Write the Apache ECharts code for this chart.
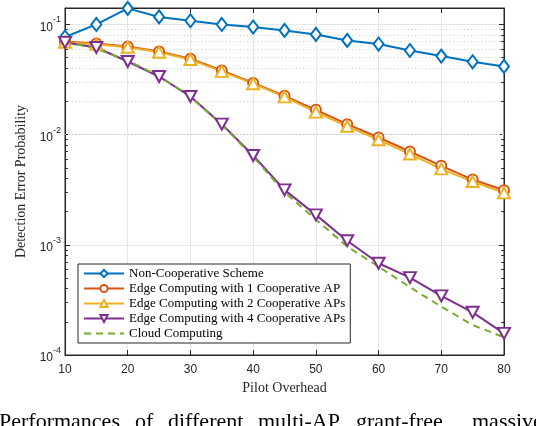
<!DOCTYPE html>
<html>
<head>
<meta charset="utf-8">
<script src="https://cdn.jsdelivr.net/npm/echarts@6/dist/echarts.min.js"></script>
<style>
  html, body { margin: 0; padding: 0; background: #fff; }
  #chart { width: 536px; height: 426px; }
</style>
</head>
<body>
<div id="chart"></div>
<script>
// pilot overhead
var pilotOverhead = [10, 15, 20, 25, 30, 35, 40, 45, 50, 55, 60, 65, 70, 75, 80];

// detection error probability
var nonCooperative = [0.077, 0.100, 0.140, 0.117, 0.108, 0.100, 0.0947, 0.0883, 0.0812, 0.0716, 0.0664, 0.058, 0.0516, 0.0458, 0.0416];
var edge1AP = [0.070, 0.067, 0.063, 0.0569, 0.0488, 0.0382, 0.0294, 0.0225, 0.0168, 0.01245, 0.00942, 0.00703, 0.00521, 0.00391, 0.00313];
var edge2APs = [0.069, 0.066, 0.062, 0.056, 0.048, 0.0375, 0.029, 0.022, 0.016, 0.0119, 0.00897, 0.00666, 0.00489, 0.00375, 0.00296];
var edge4APs = [0.0687, 0.0618, 0.0461, 0.0337, 0.0222, 0.01245, 0.00646, 0.00315, 0.00187, 0.00109, 0.00068, 0.000504, 0.000344, 0.000244, 0.000157];
var cloudComputing = [0.070, 0.060, 0.047, 0.034, 0.022, 0.0123, 0.0063, 0.0030, 0.0017, 0.000965, 0.000634, 0.000412, 0.000275, 0.000187, 0.000145];

var seriesNames = [
    'Non-Cooperative Scheme',
    'Edge Computing with 1 Cooperative AP',
    'Edge Computing with 2 Cooperative APs',
    'Edge Computing with 4 Cooperative APs',
    'Cloud Computing'
];

var captionWords = ['Performances', 'of', 'different', 'multi-AP', 'grant-free', 'massive'];
var captionX = [-1, 135, 168, 258, 356, 472];

var yMin = 1e-4, yMax = 0.141;

function toPoints(values) {
    const points = [];
    values.forEach(function(v, i) {
        points.push([pilotOverhead[i], v]);
    });
    return points;
}

// dotted minor grid at 2..9 x 10^k
function minorValues() {
    const vals = [];
    for (var k = -4; k < 0; k++) {
        for (var m = 2; m <= 9; m++) {
            var v = m * Math.pow(10, k);
            if (v < yMax) vals.push(v);
        }
    }
    return vals;
}

function minorGrid() {
    const lines = [];
    minorValues().forEach(function(v) {
        lines.push({ yAxis: v });
    });
    return lines;
}

function minorTicks() {
    const lines = [];
    minorValues().forEach(function(v) {
        lines.push([{ coord: [10, v] }, { coord: [10.45, v] }]);
        lines.push([{ coord: [79.55, v] }, { coord: [80, v] }]);
    });
    return lines;
}

var axisColor = '#262626';
var sansFont = 'Liberation Sans';
var serifFont = 'Liberation Serif';

function powerLabel(value) {
    var e = Math.log10(value);
    var r = Math.round(e);
    if (Math.abs(e - r) > 1e-6) return '';
    return '{b|10}{s|' + r + '}';
}

var chart = echarts.init(document.getElementById('chart'), null, { renderer: 'canvas' });

var baseSeries = {
    type: 'line',
    lineStyle: { width: 2 },
    symbolSize: 10,
    clip: false,
    animation: false,
    z: 3
};

var legendData = seriesNames.map(function(name, i) {
    // cloud curve has no marker, keep only its dashed line in the legend
    if (i == 4) return { name: name, itemStyle: { opacity: 0 } };
    return { name: name };
});

option = {
    backgroundColor: '#fff',
    animation: false,
    grid: {
        left: 65, right: 32, top: 8, bottom: 71,
        show: true, borderColor: axisColor, borderWidth: 1, backgroundColor: '#fff'
    },
    legend: {
        left: 78, top: 264,
        orient: 'vertical',
        itemWidth: 40, itemHeight: 9, itemGap: 0,
        padding: [2, 5, 2, 5],
        backgroundColor: '#fff',
        borderColor: axisColor, borderWidth: 1,
        textStyle: { fontFamily: serifFont, fontSize: 13, color: '#000', lineHeight: 15 },
        data: legendData
    },
    xAxis: [{
        type: 'value', min: 10, max: 80, interval: 10,
        name: 'Pilot Overhead', nameLocation: 'middle', nameGap: 26,
        nameTextStyle: { fontFamily: serifFont, fontSize: 14, color: axisColor },
        axisLine: { lineStyle: { color: axisColor, width: 1 } },
        axisTick: { inside: true, length: 5, lineStyle: { color: axisColor } },
        axisLabel: { fontFamily: sansFont, fontSize: 12, color: axisColor, margin: 9 },
        splitLine: { show: true, lineStyle: { color: '#e6e6e6', width: 1 } }
    }, {
        type: 'value', min: 10, max: 80, interval: 10, position: 'top',
        axisLine: { lineStyle: { color: axisColor, width: 1 } },
        axisTick: { inside: true, length: 5, lineStyle: { color: axisColor } },
        axisLabel: { show: false },
        splitLine: { show: false }
    }],
    yAxis: [{
        type: 'log', logBase: 10, min: yMin, max: yMax,
        name: 'Detection Error Probability', nameLocation: 'middle', nameGap: 36,
        nameTextStyle: { fontFamily: serifFont, fontSize: 14, color: axisColor },
        axisLine: { show: true, lineStyle: { color: axisColor, width: 1 } },
        axisTick: { inside: true, length: 5, lineStyle: { color: axisColor } },
        axisLabel: {
            margin: 4,
            formatter: powerLabel,
            rich: {
                b: { fontFamily: sansFont, fontSize: 12, color: axisColor, lineHeight: 18, verticalAlign: 'bottom' },
                s: { fontFamily: sansFont, fontSize: 9, color: axisColor, lineHeight: 18, verticalAlign: 'top' }
            }
        },
        splitLine: { show: true, lineStyle: { color: '#e6e6e6', width: 1 } }
    }, {
        type: 'log', logBase: 10, min: yMin, max: yMax, position: 'right',
        axisLine: { show: true, lineStyle: { color: axisColor, width: 1 } },
        axisTick: { inside: true, length: 5, lineStyle: { color: axisColor } },
        axisLabel: { show: false },
        splitLine: { show: false }
    }],
    series: [
        Object.assign({}, baseSeries, {
            name: seriesNames[0],
            data: toPoints(nonCooperative),
            color: '#0072BD',
            symbol: 'emptyDiamond', symbolSize: [10, 13],
            markLine: {
                silent: true, symbol: 'none', animation: false, z: 1,
                label: { show: false },
                lineStyle: { color: '#cccccc', type: [1, 2.5], width: 1 },
                data: minorGrid()
            }
        }),
        Object.assign({}, baseSeries, {
            name: seriesNames[1],
            data: toPoints(edge1AP),
            color: '#D95319',
            symbol: 'emptyCircle', symbolSize: 10,
            markLine: {
                silent: true, symbol: 'none', animation: false, z: 1,
                label: { show: false },
                lineStyle: { color: axisColor, type: 'solid', width: 1 },
                data: minorTicks()
            }
        }),
        Object.assign({}, baseSeries, {
            name: seriesNames[2],
            data: toPoints(edge2APs),
            color: '#EDB120',
            symbol: 'emptyTriangle', symbolSize: [12, 11]
        }),
        Object.assign({}, baseSeries, {
            name: seriesNames[3],
            data: toPoints(edge4APs),
            color: '#7E2F8E',
            symbol: 'emptyTriangle', symbolSize: [12, 11], symbolRotate: 180
        }),
        Object.assign({}, baseSeries, {
            name: seriesNames[4],
            data: toPoints(cloudComputing),
            color: '#77AC30',
            symbol: 'none',
            lineStyle: { width: 2, type: [7, 5] }
        })
    ],
    graphic: captionWords.map(function(word, i) {
        return {
            type: 'text',
            left: captionX[i], top: 411,
            style: { text: word, font: '22px "Liberation Serif"', fill: '#000' }
        };
    })
};

chart.setOption(option);
</script>
</body>
</html>
